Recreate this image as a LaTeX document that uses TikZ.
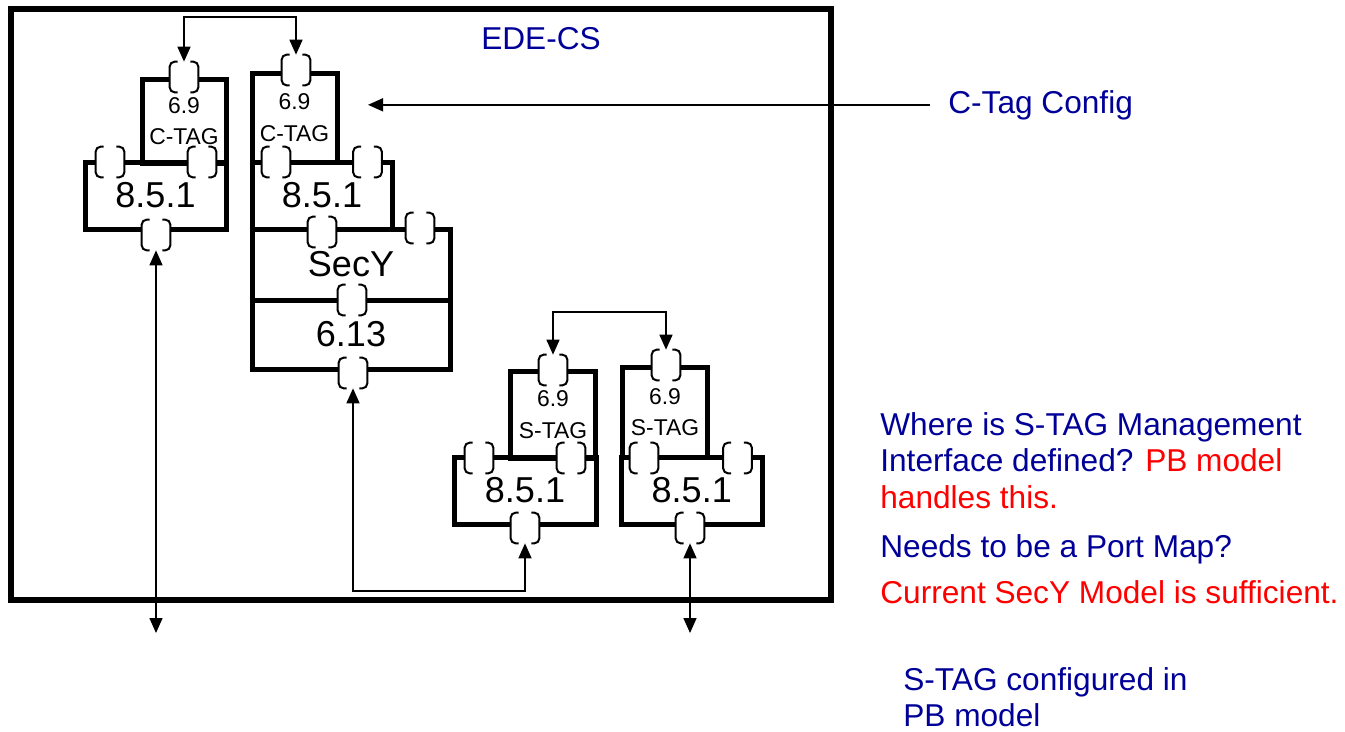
\documentclass[tikz,border=0pt]{standalone}
\usepackage{fontspec}
\setmainfont{Liberation Sans}
\usetikzlibrary{arrows.meta}
\definecolor{edenavy}{RGB}{0,0,153}
\definecolor{edered}{RGB}{255,0,0}
\tikzset{
  blk/.style={draw=black,line width=0.1cm,inner sep=0pt,align=center,font=\fontsize{20.5}{24}\selectfont},
  tagblk/.style={blk,font=\fontsize{13}{18}\selectfont},
  port/.style={rectangle,fill=white,inner sep=0pt,minimum width=0.56cm,minimum height=0.6cm},
  brk/.style={draw=black,line width=0.04cm,rounded corners=0.1cm},
  link/.style={line width=0.03cm,draw=black},
  note/.style={font=\fontsize{18}{20.7}\selectfont,text=edenavy,inner sep=0pt,align=left},
  sz/.style 2 args={minimum width=#1*0.02cm,minimum height=#2*0.02cm}
}

\begin{document}
\begin{tikzpicture}[x=0.02cm,y=-0.02cm,>={Triangle[length=0.3cm,width=0.26cm]}]
\useasboundingbox (0,0) rectangle (1345,731);
\node[draw=black,line width=0.11cm,sz={820}{591}] (frame) at (421,304.5) {};
\node[note,anchor=base] (title) at (541,49) {EDE-CS};

\node[tagblk,sz={84}{84}] (ctagL) at (184,121) {6.9\\C-TAG};
\node[blk,sz={141}{67}] (fwdL) at (155.5,195.5) {8.5.1};

\node[tagblk,sz={85}{89}] (ctagR) at (294.5,117.5) {6.9\\C-TAG};
\node[blk,sz={140}{67}] (fwdR) at (322,195.5) {8.5.1};
\node[blk,sz={198}{71}] (secy) at (351,264.5) {SecY};
\node[blk,sz={198}{69}] (vlan) at (351,334.5) {6.13};

\node[tagblk,sz={85.5}{87}] (stagL) at (553,414.5) {6.9\\S-TAG};
\node[blk,sz={142}{67}] (fwdSL) at (525,490.5) {8.5.1};
\node[tagblk,sz={84.5}{90}] (stagR) at (665,412) {6.9\\S-TAG};
\node[blk,sz={141.5}{67}] (fwdSR) at (691.75,490.5) {8.5.1};

\foreach \p/\x/\y in {pLt/184/77,pLa/110/162,pLb/202/162,pLd/156/235,
  pRt/296/70,pRa/276/162,pRb/367.5/162,pRd/322/232,pSs/420/228,pSm/352/300,pSd/353/373,
  pSLt/553/370,pSLa/479/458,pSLb/571/458,pSLd/525/528,
  pSRt/666/365,pSRa/644/458,pSRb/737.5/458,pSRd/690/528}
  \node[port] (\p) at (\x,\y) {};
\foreach \p in {pLt,pLa,pLb,pLd,pRt,pRa,pRb,pRd,pSs,pSm,pSd,pSLt,pSLa,pSLb,pSLd,pSRt,pSRa,pSRb,pSRd}{
  \draw[brk] ([xshift=0.16cm]\p.north west) -| (\p.south west) -- ++(8,0);
  \draw[brk] ([xshift=-0.16cm]\p.north east) -| (\p.south east) -- ++(-8,0);
}

\coordinate (ctop) at (240,17);
\draw[link,<->] (pLt.north) |- (ctop) -| (pRt.north);
\coordinate (stop) at (610,312);
\draw[link,<->] (pSLt.north) |- (stop) -| (pSRt.north);
\coordinate (outL) at (156,633);
\draw[link,<->] (pLd.south) -- (outL);
\coordinate (outR) at (690,633);
\draw[link,<->] (pSRd.south) -- (outR);
\coordinate (lowrun) at (440,591);
\draw[link,<->] (pSd.south) |- (lowrun) -| (pSLd.south);

\node[note,anchor=base west] (cfg) at (948,113) {C-Tag Config};
\coordinate (cfgtip) at (368,104);
\draw[link,->] ([xshift=-0.36cm]cfg.west) -- (cfgtip |- cfg.west);

\node[note,anchor=north west] (where) at (880,412) {Where is S-TAG Management\\Interface defined? \textcolor{edered}{PB model}\\\textcolor{edered}{handles this.}};
\node[note,anchor=base west] (portmap) at (880,557) {Needs to be a Port Map?};
\node[note,anchor=base west,text=edered] (suff) at (880,603) {Current SecY Model is sufficient.};
\node[note,anchor=north west] (pbnote) at (903,667) {S-TAG configured in\\PB model};
\end{tikzpicture}
\end{document}
